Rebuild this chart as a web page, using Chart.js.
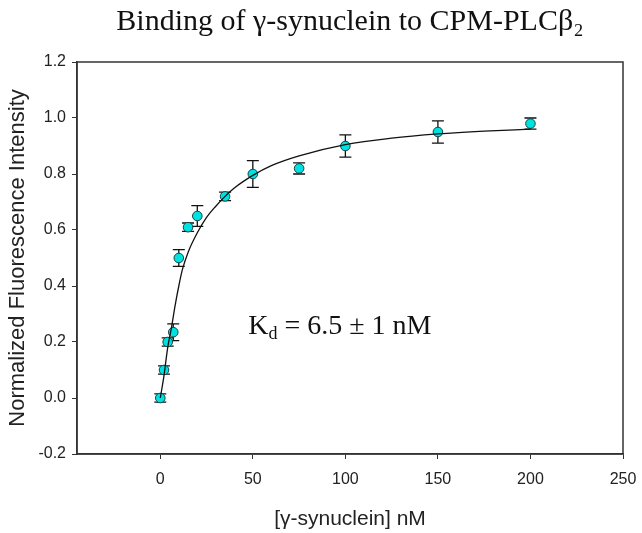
<!DOCTYPE html>
<html>
<head>
<meta charset="utf-8">
<script src="https://cdn.jsdelivr.net/npm/chart.js@4.4.1/dist/chart.umd.min.js"></script>
<style>
  html, body { margin: 0; padding: 0; background: #fff; overflow: hidden; }
</style>
</head>
<body>
<canvas id="bindingChart" width="642" height="533"></canvas>
<script>
// measured points (concentration nM, normalized intensity, error)
const concentration = [0, 2, 4, 7, 10, 15, 20, 35, 50, 75, 100, 150, 200];
const intensity = [0.0, 0.10, 0.20, 0.235, 0.50, 0.61, 0.65, 0.72, 0.80, 0.82, 0.90, 0.95, 0.98];
const errorBars = [0.015, 0.015, 0.015, 0.03, 0.03, 0.015, 0.037, 0.015, 0.048, 0.02, 0.04, 0.04, 0.02];

// fitted curve
const fitX = [0, 2, 4, 6, 8, 10, 12, 15, 20, 25, 30, 35, 40, 50, 60, 75, 100, 125, 150, 175, 200];
const fitY = [0.0, 0.08, 0.18, 0.25, 0.33, 0.40, 0.46, 0.52, 0.59, 0.645, 0.685, 0.72, 0.75, 0.795, 0.83, 0.865, 0.905, 0.928, 0.943, 0.953, 0.96];

const xTicks = [0, 50, 100, 150, 200, 250];
const yTicks = [-0.2, 0.0, 0.2, 0.4, 0.6, 0.8, 1.0, 1.2];

const pointData = concentration.map((x, i) => ({ x: x, y: intensity[i] }));
const fitData = fitX.map((x, i) => ({ x: x, y: fitY[i] }));

// draws the error bars through the scales
const errorBarPlugin = {
  id: 'errorBars',
  beforeDatasetsDraw(chart) {
    const ctx = chart.ctx;
    const xs = chart.scales.x;
    const ys = chart.scales.y;
    ctx.save();
    ctx.strokeStyle = '#111';
    ctx.lineWidth = 1.3;
    concentration.forEach((x, i) => {
      const px = xs.getPixelForValue(x);
      const top = ys.getPixelForValue(intensity[i] + errorBars[i]);
      const bot = ys.getPixelForValue(intensity[i] - errorBars[i]);
      ctx.beginPath();
      ctx.moveTo(px, top); ctx.lineTo(px, bot);
      ctx.moveTo(px - 6, top); ctx.lineTo(px + 6, top);
      ctx.moveTo(px - 6, bot); ctx.lineTo(px + 6, bot);
      ctx.stroke();
    });
    ctx.restore();
  }
};

// frame on top and right + Kd label
const framePlugin = {
  id: 'frame',
  afterDraw(chart) {
    const ctx = chart.ctx;
    const a = chart.chartArea;
    ctx.save();
    ctx.strokeStyle = '#333';
    ctx.lineWidth = 1.5;
    ctx.strokeRect(a.left, a.top, a.right - a.left, a.bottom - a.top);

    const tx = chart.scales.x.getPixelForValue(47.5);
    const ty = chart.scales.y.getPixelForValue(0.255);
    ctx.fillStyle = '#111';
    ctx.textBaseline = 'middle';
    ctx.font = '28px "Liberation Serif", "Times New Roman", serif';
    ctx.fillText('K', tx, ty);
    let w = ctx.measureText('K').width;
    ctx.font = '18px "Liberation Serif", "Times New Roman", serif';
    ctx.fillText('d', tx + w, ty + 8);
    w += ctx.measureText('d').width;
    ctx.font = '28px "Liberation Serif", "Times New Roman", serif';
    ctx.fillText(' = 6.5 \u00b1 1 nM', tx + w, ty);
    ctx.restore();
  }
};

const ctx = document.getElementById('bindingChart').getContext('2d');
const bindingChart = new Chart(ctx, {
  type: 'scatter',
  data: {
    datasets: [
      {
        label: 'fit',
        type: 'line',
        data: fitData,
        borderColor: '#111',
        borderWidth: 1.3,
        pointRadius: 0,
        fill: false,
        cubicInterpolationMode: 'monotone'
      },
      {
        label: 'data',
        data: pointData,
        backgroundColor: '#00e1e1',
        borderColor: '#134545',
        borderWidth: 1,
        pointRadius: 4.8
      }
    ]
  },
  options: {
    responsive: false,
    animation: false,
    devicePixelRatio: 1,
    layout: { padding: { left: 0, right: 19, top: 0, bottom: 0 } },
    plugins: {
      legend: { display: false },
      tooltip: { enabled: false },
      title: {
        display: true,
        fullSize: false,
        text: 'Binding of \u03b3-synuclein to CPM-PLC\u03b2\u2082',
        color: '#111',
        font: { family: '"Liberation Serif", "Times New Roman", serif', size: 30, weight: 'normal' },
        padding: { top: 4, bottom: 22 }
      }
    },
    scales: {
      x: {
        type: 'linear',
        min: -45,
        max: 250,
        afterBuildTicks: (scale) => { scale.ticks = xTicks.map(v => ({ value: v })); },
        afterFit: (scale) => {
          scale.height = 79;
          scale.paddingLeft = 0;
          scale.paddingRight = 0;
        },
        grid: { drawOnChartArea: false, drawTicks: true, tickLength: 5, tickColor: '#333' },
        border: { color: '#333', width: 1.5 },
        ticks: {
          color: '#222',
          padding: 11,
          font: { family: '"Liberation Sans", Arial, sans-serif', size: 16 }
        },
        title: {
          display: true,
          text: '[\u03b3-synuclein] nM',
          color: '#222',
          font: { family: '"Liberation Sans", Arial, sans-serif', size: 21 },
          padding: { top: 0, bottom: 1 }
        }
      },
      y: {
        type: 'linear',
        min: -0.2,
        max: 1.2,
        afterBuildTicks: (scale) => { scale.ticks = yTicks.map(v => ({ value: v })); },
        afterFit: (scale) => {
          scale.width = 77;
          scale.paddingTop = 0;
          scale.paddingBottom = 0;
        },
        grid: { drawOnChartArea: false, drawTicks: true, tickLength: 5, tickColor: '#333' },
        border: { color: '#333', width: 1.5 },
        ticks: {
          color: '#222',
          padding: 6,
          font: { family: '"Liberation Sans", Arial, sans-serif', size: 16 },
          callback: (v) => Number(v).toFixed(1)
        },
        title: {
          display: true,
          text: 'Normalized Fluorescence Intensity',
          color: '#222',
          font: { family: '"Liberation Sans", Arial, sans-serif', size: 22 },
          padding: { top: 5, bottom: 0 }
        }
      }
    }
  },
  plugins: [errorBarPlugin, framePlugin]
});
</script>
</body>
</html>
